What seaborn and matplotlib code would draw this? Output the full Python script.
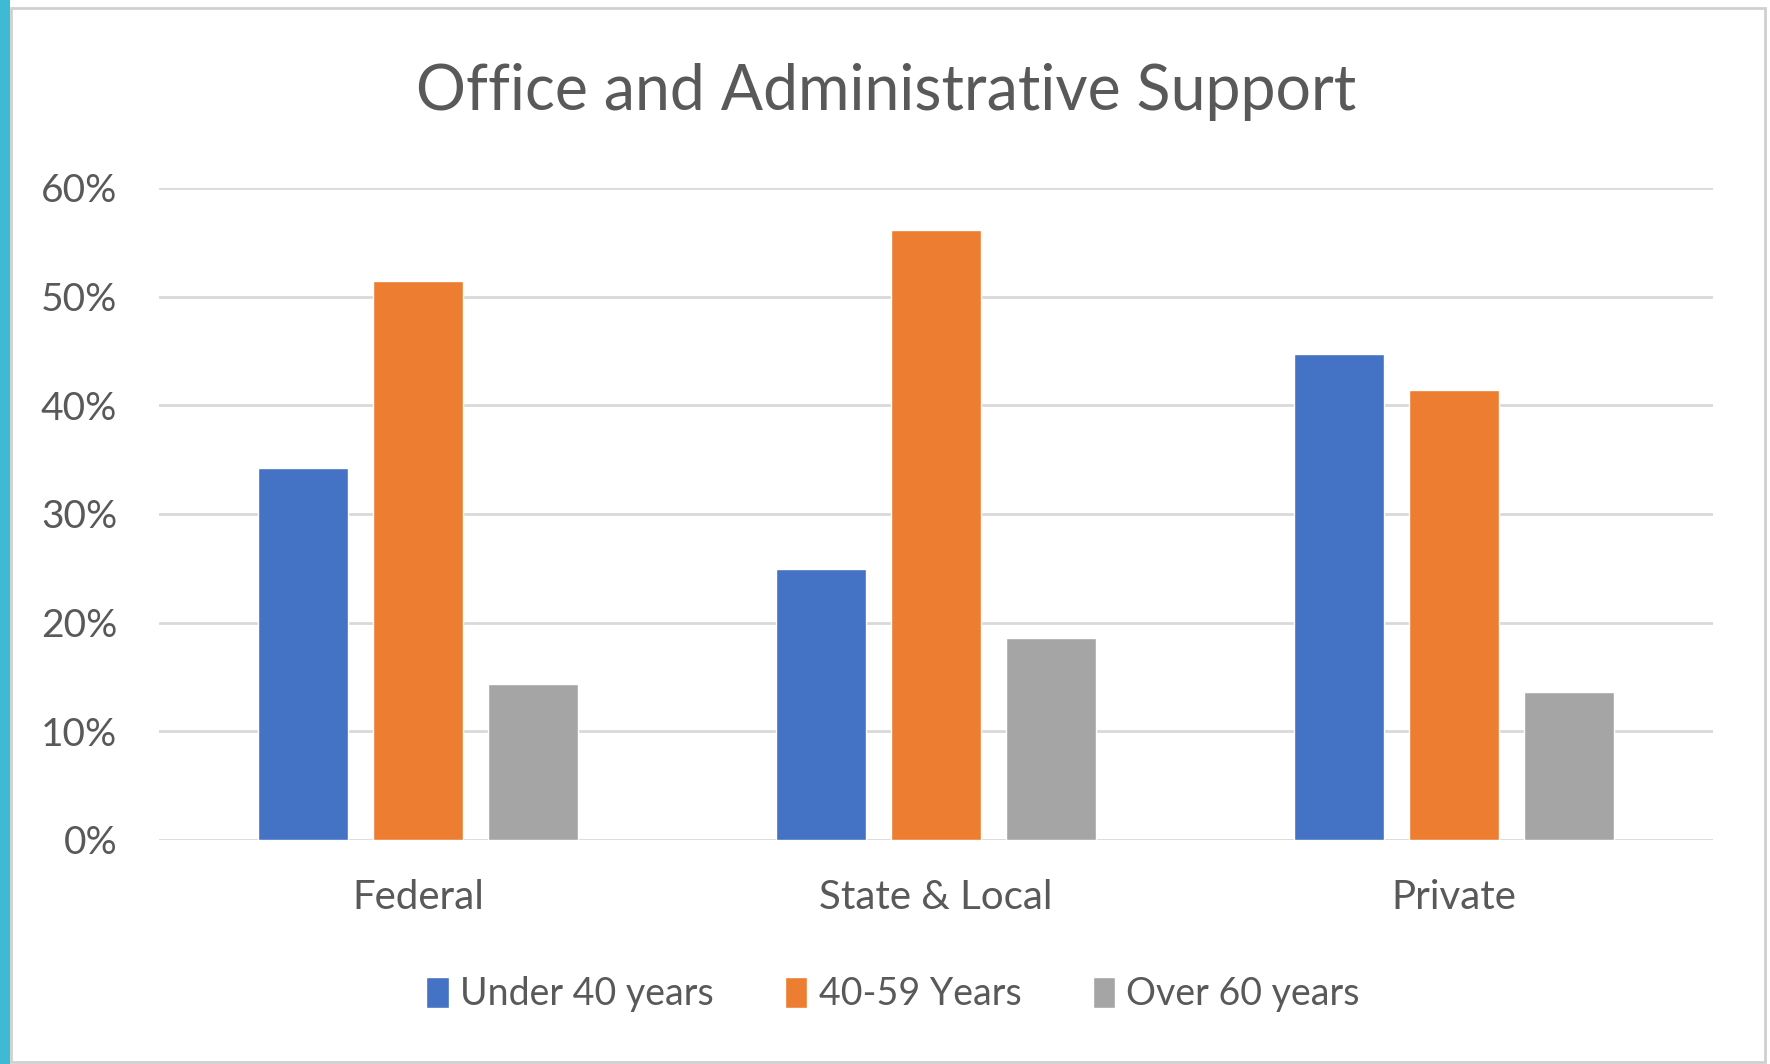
import numpy as np
import pandas as pd
import matplotlib
matplotlib.use('Agg')
import matplotlib.pyplot as plt
import seaborn as sns
from matplotlib.patches import Rectangle
from matplotlib.ticker import PercentFormatter

# chart data
sectors = ['Federal', 'State & Local', 'Private']
age_groups = ['Under 40 years', '40-59 Years', 'Over 60 years']
under_40 = [0.342, 0.249, 0.447]
age_40_59 = [0.514, 0.561, 0.414]
over_60 = [0.144, 0.186, 0.136]

colors = ['#4472C4', '#ED7D31', '#A5A5A5']
text_color = '#595959'

df = pd.DataFrame({
    'sector': sectors * 3,
    'group': np.repeat(age_groups, len(sectors)),
    'share': under_40 + age_40_59 + over_60,
})

sns.set_theme(style='white')
plt.rcParams['font.family'] = ['Lato', 'DejaVu Sans']

fig = plt.figure(figsize=(17.7, 10.64), dpi=100)
ax = fig.add_axes([159 / 1770, 1 - 840 / 1064, (1713 - 159) / 1770, (840 - 188) / 1064])

sns.barplot(data=df, x='sector', y='share', hue='group', order=sectors,
            hue_order=age_groups, palette=colors, width=0.665, gap=0.22,
            saturation=1, ax=ax, zorder=3)

ax.set_ylim(0, 0.6)
ax.set_xlim(-0.5, 2.5)
ax.set_yticks(np.arange(0, 0.61, 0.1))
ax.yaxis.set_major_formatter(PercentFormatter(1.0, decimals=0))
ax.grid(axis='y', color='#D9D9D9', linewidth=2, zorder=0)
for s in ax.spines.values():
    s.set_visible(False)
ax.tick_params(axis='y', length=0, labelsize=28, labelcolor=text_color, pad=30)
ax.tick_params(axis='x', length=0, labelsize=29, labelcolor=text_color, pad=28)
ax.set_xlabel('')
ax.set_ylabel('')

# legend below the plot
ax.legend(loc='center', bbox_to_anchor=(893 / 1770, 1 - 994 / 1064),
          bbox_transform=fig.transFigure, ncol=3, frameon=False,
          fontsize=27, labelcolor=text_color, handlelength=0.6,
          handleheight=0.9, handletextpad=0.3, columnspacing=1.9)

fig.text(886 / 1770, 1 - 92 / 1064, 'Office and Administrative Support',
         ha='center', va='center', fontsize=45, color=text_color)

# frame: cyan strip on the left and a thin grey border
fig.patches.append(Rectangle((0, 0), 10 / 1770, 1, transform=fig.transFigure,
                             facecolor='#3FBAD4', edgecolor='none', zorder=0))
fig.patches.append(Rectangle((11 / 1770, 2 / 1064), 1754 / 1770, 1054 / 1064,
                             transform=fig.transFigure, facecolor='none',
                             edgecolor='#D0D0D0', linewidth=2, zorder=0))

fig.savefig('out.png', dpi=100, facecolor='white')
